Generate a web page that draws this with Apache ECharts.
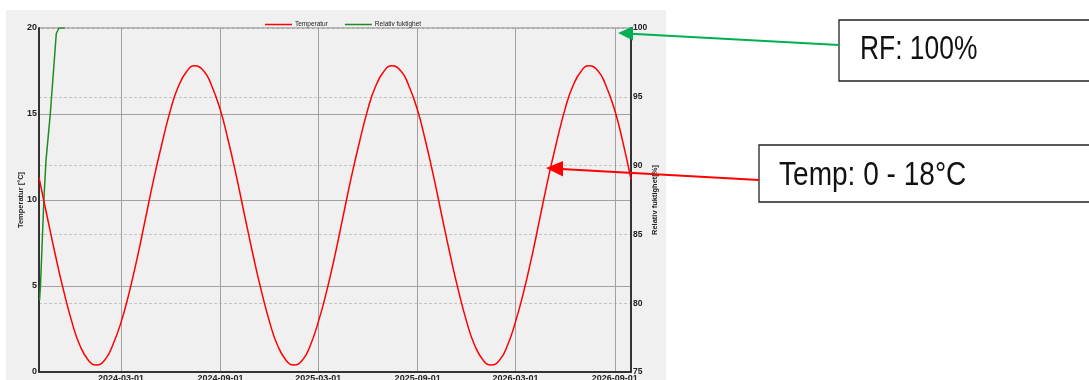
<!DOCTYPE html>
<html><head><meta charset="utf-8">
<script src="https://cdn.jsdelivr.net/npm/echarts@6/dist/echarts.min.js"></script>
<style>html,body{margin:0;padding:0;background:#fff}#c{width:1089px;height:380px}</style>
</head><body><div id="c"></div>
<script>
const seriesNames = ['Temperatur', 'Relativ fuktighet'];
const axisNames = ['Temperatur [°C]', 'Relativ fuktighet[%]'];
const xRange = ['2023-10-01', '2026-10-01'];
const xTickLabels = ['2024-03-01', '2024-09-01', '2025-03-01', '2025-09-01', '2026-03-01', '2026-09-01'];
const annotationTexts = ['RF: 100%', 'Temp: 0 - 18°C'];

const tempDates = [
  '2023-10-01','2023-10-15','2023-11-01','2023-11-15','2023-12-01','2023-12-15',
  '2024-01-01','2024-01-15','2024-02-01','2024-02-15','2024-03-01','2024-03-15',
  '2024-04-01','2024-04-15','2024-05-01','2024-05-15','2024-06-01','2024-06-15',
  '2024-07-01','2024-07-15','2024-08-01','2024-08-15','2024-09-01','2024-09-15',
  '2024-10-01','2024-10-15','2024-11-01','2024-11-15','2024-12-01','2024-12-15',
  '2025-01-01','2025-01-15','2025-02-01','2025-02-15','2025-03-01','2025-03-15',
  '2025-04-01','2025-04-15','2025-05-01','2025-05-15','2025-06-01','2025-06-15',
  '2025-07-01','2025-07-15','2025-08-01','2025-08-15','2025-09-01','2025-09-15',
  '2025-10-01','2025-10-15','2025-11-01','2025-11-15','2025-12-01','2025-12-15',
  '2026-01-01','2026-01-15','2026-02-01','2026-02-15','2026-03-01','2026-03-15',
  '2026-04-01','2026-04-15','2026-05-01','2026-05-15','2026-06-01','2026-06-15',
  '2026-07-01','2026-07-15','2026-08-01','2026-08-15','2026-09-01','2026-09-15',
  '2026-10-01'
];
const tempValues = [
  11.3, 9.2, 6.7, 4.8, 2.9, 1.6,
  0.65, 0.4, 0.75, 1.6, 2.9, 4.5,
  6.8, 8.9, 11.3, 13.2, 15.3, 16.6,
  17.5, 17.8, 17.5, 16.7, 15.2, 13.5,
  11.3, 9.2, 6.7, 4.8, 2.9, 1.6,
  0.65, 0.4, 0.75, 1.6, 2.9, 4.5,
  6.8, 8.9, 11.3, 13.2, 15.3, 16.6,
  17.5, 17.8, 17.5, 16.7, 15.2, 13.5,
  11.3, 9.2, 6.7, 4.8, 2.9, 1.6,
  0.65, 0.4, 0.75, 1.6, 2.9, 4.5,
  6.8, 8.9, 11.3, 13.2, 15.3, 16.6,
  17.5, 17.8, 17.5, 16.7, 15.2, 13.5,
  11.2
];
const rfDates = ['2023-10-02','2023-10-04','2023-10-10','2023-10-14','2023-10-22','2023-11-02','2023-11-07','2023-11-18'];
const rfValues = [80.2, 81.5, 87.5, 90.4, 93.8, 99.6, 100, 100];

function ts(s) { const p = s.split('-').map(Number); return new Date(p[0], p[1] - 1, p[2]).getTime(); }
function fmt(v) { const d = new Date(v); const pad = n => (n < 10 ? '0' : '') + n; return d.getFullYear() + '-' + pad(d.getMonth() + 1) + '-' + pad(d.getDate()); }

const xTicks = xTickLabels.map(ts);
const tempData = tempDates.map((d, i) => [ts(d), tempValues[i]]);
const rfData = rfDates.map((d, i) => [ts(d), rfValues[i]]);

const chart = echarts.init(document.getElementById('c'), null, { renderer: 'canvas' });
const lbl = { fontSize: 9, fontWeight: 'bold', color: '#222', fontFamily: 'Liberation Sans, Arial, sans-serif' };
const boxFont = 'Liberation Sans, Arial, sans-serif';

chart.setOption({
  animation: false,
  textStyle: { fontFamily: 'Liberation Sans, Arial, sans-serif' },
  legend: {
    top: 16, left: 260, itemWidth: 27, itemHeight: 1.5, itemGap: 17, icon: 'rect',
    textStyle: { fontSize: 6.5, color: '#222', padding: [0, 0, 0, -2] },
    data: seriesNames
  },
  grid: { left: 39, right: 458, top: 28, bottom: 8, outerBoundsMode: 'none', containLabel: false, show: true, borderColor: '#7f7f7f', borderWidth: 1, backgroundColor: 'transparent' },
  xAxis: {
    type: 'value', min: ts(xRange[0]), max: ts(xRange[1]),
    axisLine: { lineStyle: { color: '#333', width: 2 } },
    axisTick: { show: false, customValues: xTicks },
    axisLabel: Object.assign({ customValues: xTicks, formatter: v => fmt(v), margin: 2, hideOverlap: false }, lbl),
    splitLine: { show: true, lineStyle: { color: '#a0a0a0', width: 1 } }
  },
  yAxis: [
    {
      type: 'value', min: 0, max: 20, interval: 5, position: 'left',
      name: axisNames[0], nameLocation: 'middle', nameGap: 14, nameRotate: 90, nameMoveOverlap: false,
      nameTextStyle: { fontSize: 7.5, fontWeight: 'bold', color: '#222' },
      axisLine: { show: true, lineStyle: { color: '#333', width: 2 } },
      axisTick: { show: false },
      axisLabel: Object.assign({ margin: 2 }, lbl),
      splitLine: { show: true, lineStyle: { color: '#a0a0a0', width: 1 } }
    },
    {
      type: 'value', min: 75, max: 100, interval: 5, position: 'right',
      name: axisNames[1], nameLocation: 'middle', nameGap: 20, nameRotate: 90, nameMoveOverlap: false,
      nameTextStyle: { fontSize: 7.5, fontWeight: 'bold', color: '#222' },
      axisLine: { show: true, lineStyle: { color: '#333', width: 2 } },
      axisTick: { show: false },
      axisLabel: Object.assign({ margin: 2 }, lbl, { fontSize: 8.5 }),
      splitLine: { show: true, lineStyle: { color: '#c4c4c4', width: 1, type: [3, 2] } }
    }
  ],
  series: [
    { name: seriesNames[0], type: 'line', yAxisIndex: 0, data: tempData, smooth: 0.5, symbol: 'none', lineStyle: { color: '#ff0000', width: 1.5 }, itemStyle: { color: '#ff0000' }, z: 3 },
    { name: seriesNames[1], type: 'line', yAxisIndex: 1, data: rfData, smooth: false, symbol: 'none', lineStyle: { color: '#1e8c1e', width: 1.5 }, itemStyle: { color: '#1e8c1e' }, z: 2 }
  ],
  graphic: [
    { type: 'rect', z: -100, silent: true, shape: { x: 6, y: 10, width: 660, height: 372 }, style: { fill: '#f0f0f0' } },
    { type: 'rect', z: 100, silent: true, shape: { x: 839, y: 20, width: 270, height: 61 }, style: { fill: '#fff', stroke: '#222', lineWidth: 1.3 } },
    { type: 'text', z: 101, silent: true, x: 860, y: 50, scaleX: 0.8, style: { text: annotationTexts[0], fontSize: 33, fontFamily: boxFont, fill: '#111', align: 'left', verticalAlign: 'middle' } },
    { type: 'rect', z: 100, silent: true, shape: { x: 759, y: 145, width: 350, height: 57 }, style: { fill: '#fff', stroke: '#222', lineWidth: 1.3 } },
    { type: 'text', z: 101, silent: true, x: 779, y: 175.5, scaleX: 0.85, style: { text: annotationTexts[1], fontSize: 33, fontFamily: boxFont, fill: '#111', align: 'left', verticalAlign: 'middle' } },
    { type: 'line', z: 100, silent: true, shape: { x1: 839, y1: 45, x2: 631, y2: 33.8 }, style: { stroke: '#00b050', lineWidth: 2 } },
    { type: 'polygon', z: 100, silent: true, shape: { points: [[618, 33], [633, 26.5], [633, 40.5]] }, style: { fill: '#00b050' } },
    { type: 'line', z: 100, silent: true, shape: { x1: 759, y1: 180, x2: 561, y2: 169 }, style: { stroke: '#ff0000', lineWidth: 2 } },
    { type: 'polygon', z: 100, silent: true, shape: { points: [[546, 168], [563, 161], [563, 176.5]] }, style: { fill: '#ff0000' } }
  ]
});
</script>
</body></html>
